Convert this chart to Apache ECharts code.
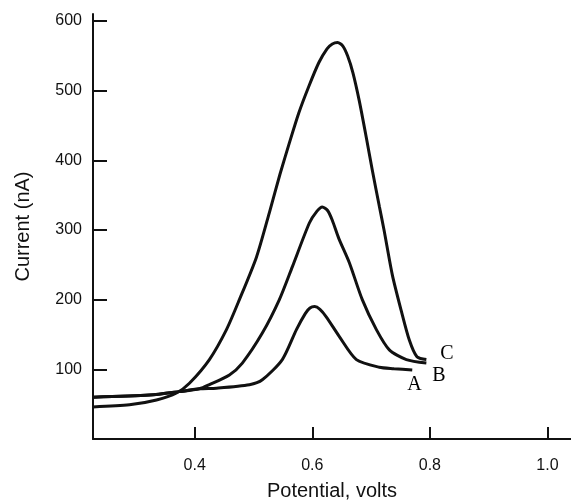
<!DOCTYPE html>
<html>
<head>
<meta charset="utf-8">
<script src="https://cdn.jsdelivr.net/npm/echarts@6/dist/echarts.min.js"></script>
<style>
  html, body { margin: 0; padding: 0; background: #fff; }
  #chart { width: 571px; height: 501px; }
</style>
</head>
<body>
<div id="chart"></div>
<script>
// potential (V) and current (nA)
const potentialA = [0.227, 0.323, 0.374, 0.408, 0.437, 0.493, 0.515, 0.549, 0.573, 0.588, 0.596, 0.604, 0.613, 0.624, 0.646, 0.675, 0.714, 0.739, 0.770];
const currentA   = [60, 63, 68, 72, 73, 78, 85, 114, 157, 180, 188, 190, 186, 175, 147, 114, 103, 101, 99];

const potentialB = [0.227, 0.323, 0.374, 0.408, 0.425, 0.459, 0.481, 0.515, 0.544, 0.566, 0.595, 0.608, 0.617, 0.626, 0.634, 0.645, 0.663, 0.685, 0.709, 0.731, 0.760, 0.794];
const currentB   = [60, 63, 68, 72, 78, 92, 109, 152, 200, 247, 310, 327, 333, 328, 314, 288, 253, 200, 157, 128, 114, 109];

const potentialC = [0.227, 0.289, 0.335, 0.369, 0.391, 0.425, 0.454, 0.476, 0.505, 0.527, 0.545, 0.561, 0.577, 0.594, 0.611, 0.625, 0.634, 0.643, 0.652, 0.660, 0.669, 0.680, 0.692, 0.702, 0.714, 0.722, 0.736, 0.751, 0.765, 0.778, 0.794];
const currentC   = [46, 49, 56, 66, 80, 114, 157, 200, 261, 325, 380, 425, 468, 506, 540, 560, 567, 569, 564, 550, 526, 485, 432, 386, 334, 300, 236, 185, 142, 118, 114];

const xTicks = [0.4, 0.6, 0.8, 1.0];
const yTicks = [100, 200, 300, 400, 500, 600];

const zip = (xs, ys) => xs.map((x, i) => [x, ys[i]]);

const chart = echarts.init(document.getElementById('chart'));

const curve = (name, data, offset) => ({
  name: name,
  type: 'line',
  data: data,
  smooth: 0.25,
  symbol: 'none',
  lineStyle: { color: '#111', width: 3 },
  endLabel: {
    show: true,
    formatter: '{a}',
    distance: 0,
    offset: offset,
    fontFamily: 'Liberation Serif',
    fontSize: 20,
    color: '#000'
  }
});

chart.setOption({
  animation: false,
  grid: { left: 93, right: 0, top: 14, bottom: 62, outerBoundsMode: 'none' },
  xAxis: {
    type: 'value',
    min: 0.227,
    max: 1.04,
    name: 'Potential, volts',
    nameLocation: 'middle',
    nameGap: 42,
    nameTextStyle: { fontFamily: 'Liberation Sans', fontSize: 20, color: '#111' },
    axisLine: { lineStyle: { color: '#111', width: 2 } },
    axisTick: { inside: true, length: 12, customValues: xTicks, lineStyle: { color: '#111', width: 2 } },
    axisLabel: {
      customValues: xTicks,
      margin: 19,
      fontFamily: 'Liberation Sans',
      fontSize: 16,
      color: '#111',
      formatter: v => v.toFixed(1)
    },
    splitLine: { show: false }
  },
  yAxis: {
    type: 'value',
    min: 0,
    max: 610,
    name: 'Current (nA)',
    nameLocation: 'middle',
    nameGap: 60,
    nameTextStyle: { fontFamily: 'Liberation Sans', fontSize: 20, color: '#111' },
    axisLine: { show: true, lineStyle: { color: '#111', width: 2 } },
    axisTick: { show: true, inside: true, length: 14, customValues: yTicks, lineStyle: { color: '#111', width: 2 } },
    axisLabel: {
      customValues: yTicks,
      margin: 11,
      fontFamily: 'Liberation Sans',
      fontSize: 16,
      color: '#111'
    },
    splitLine: { show: false }
  },
  series: [
    curve('A', zip(potentialA, currentA), [-5, 15]),
    curve('B', zip(potentialB, currentB), [6, 13]),
    curve('C', zip(potentialC, currentC), [14, -6])
  ]
});

window.onresize = function () {
  chart.resize();
};
</script>
</body>
</html>
